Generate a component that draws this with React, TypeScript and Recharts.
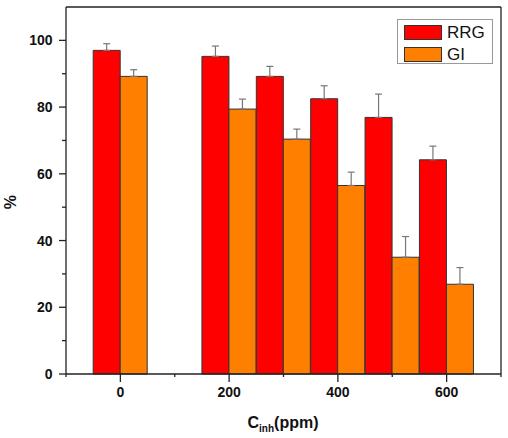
import React from "react"
import {
  ComposedChart,
  Bar,
  ErrorBar,
  XAxis,
  YAxis,
  ReferenceLine,
  Legend,
} from "recharts"

const concentrations = [0, 200, 300, 400, 500, 600]
const rrgValues = [97.0, 95.2, 89.2, 82.5, 76.9, 64.2]
const rrgErrors = [2.0, 3.1, 3.0, 3.9, 7.0, 4.1]
const giValues = [89.2, 79.4, 70.4, 56.5, 35.0, 26.9]
const giErrors = [2.0, 3.0, 3.0, 4.0, 6.2, 5.0]

const xTicks = [-100, 0, 100, 200, 300, 400, 500, 600, 700]
const xLabelled = [0, 200, 400, 600]
const yTicks = [0, 10, 20, 30, 40, 50, 60, 70, 80, 90, 100]
const yLabelled = [0, 20, 40, 60, 80, 100]

const data = concentrations.map((c, i) => ({
  c,
  RRG: rrgValues[i],
  GI: giValues[i],
  rrgErr: [0, rrgErrors[i]],
  giErr: [0, giErrors[i]],
}))

const FONT = "'Liberation Sans', Arial, sans-serif"
const AXIS = "#222"

const XTick = (props: any) => {
  const { x, y, payload } = props
  const major = xLabelled.includes(payload.value)
  const top = y - 8
  return (
    <g>
      <line x1={x} x2={x} y1={top} y2={top + (major ? 8 : 3)} stroke={AXIS} strokeWidth={1.3} />
      {major && (
        <text x={x} y={top + 23} textAnchor="middle" fontFamily={FONT} fontWeight="bold" fontSize={14} fill="#111">
          {payload.value}
        </text>
      )}
    </g>
  )
}

const YTick = (props: any) => {
  const { x, y, payload } = props
  const major = yLabelled.includes(payload.value)
  const right = x + 7
  return (
    <g>
      <line x1={right - (major ? 7 : 4)} x2={right} y1={y} y2={y} stroke={AXIS} strokeWidth={1.3} />
      {major && (
        <text x={x - 6.5} y={y + 5} textAnchor="end" fontFamily={FONT} fontWeight="bold" fontSize={14} fill="#111">
          {payload.value}
        </text>
      )}
    </g>
  )
}

const XLabel = () => (
  <text x={283} y={428} textAnchor="middle" fontFamily={FONT} fontWeight="bold" fontSize={16} fill="#111">
    C
    <tspan fontSize={10} dy={4}>inh</tspan>
    <tspan fontSize={16} dy={-4}>(ppm)</tspan>
  </text>
)

const YLabel = () => (
  <text
    x={10}
    y={202}
    transform="rotate(-90 10 202)"
    textAnchor="middle"
    dominantBaseline="central"
    fontFamily={FONT}
    fontWeight="bold"
    fontSize={16}
    fill="#111"
  >
    %
  </text>
)

const legendItems = [
  { name: "RRG", color: "#ff0000" },
  { name: "GI", color: "#ff8000" },
]

const LegendBox = () => (
  <div
    style={{
      width: 96,
      height: 45,
      border: "1px solid #999",
      background: "#fff",
      boxSizing: "border-box",
      position: "relative",
      fontFamily: FONT,
    }}
  >
    {legendItems.map((item, i) => (
      <div key={item.name} style={{ position: "absolute", left: 6, top: 5 + i * 21.7, height: 15, display: "flex", alignItems: "center" }}>
        <div style={{ width: 38, height: 15, background: item.color, border: "1px solid #333", boxSizing: "border-box" }} />
        <span style={{ marginLeft: 5, fontSize: 17, color: "#111", lineHeight: "15px" }}>{item.name}</span>
      </div>
    ))}
  </div>
)

export default function App() {
  return (
    <div style={{ position: "absolute", left: 0, top: 0, width: 508, height: 438, background: "#fff" }}>
      <ComposedChart
        width={508}
        height={438}
        data={data}
        margin={{ top: 7, right: 7, bottom: 24, left: 0 }}
        barGap={0}
        barSize={27}
      >
        <XAxis
          dataKey="c"
          type="number"
          domain={[-100, 700]}
          ticks={xTicks}
          interval={0}
          height={40}
          axisLine={{ stroke: AXIS, strokeWidth: 1.3 }}
          tickLine={false}
          tickSize={8}
          tickMargin={0}
          tick={XTick}
          label={{ content: XLabel }}
        />
        <YAxis
          type="number"
          domain={[0, 110]}
          ticks={yTicks}
          interval={0}
          width={66}
          axisLine={{ stroke: AXIS, strokeWidth: 1.3 }}
          tickLine={false}
          tickSize={7}
          tickMargin={0}
          tick={YTick}
          label={{ content: YLabel }}
        />
        <ReferenceLine y={110} stroke={AXIS} strokeWidth={1.3} />
        <ReferenceLine x={700} stroke={AXIS} strokeWidth={1.3} />
        <Legend
          layout="vertical"
          align="center"
          verticalAlign="middle"
          content={LegendBox}
          wrapperStyle={{ position: "absolute", left: 397, top: 19, width: 96, height: 45 }}
        />
        <Bar dataKey="RRG" fill="#ff0000" stroke="#333" strokeWidth={1} isAnimationActive={false}>
          <ErrorBar dataKey="rrgErr" direction="y" width={3.5} stroke="#777" strokeWidth={1.2} isAnimationActive={false} />
        </Bar>
        <Bar dataKey="GI" fill="#ff8000" stroke="#333" strokeWidth={1} isAnimationActive={false}>
          <ErrorBar dataKey="giErr" direction="y" width={3.5} stroke="#777" strokeWidth={1.2} isAnimationActive={false} />
        </Bar>
      </ComposedChart>
    </div>
  )
}
